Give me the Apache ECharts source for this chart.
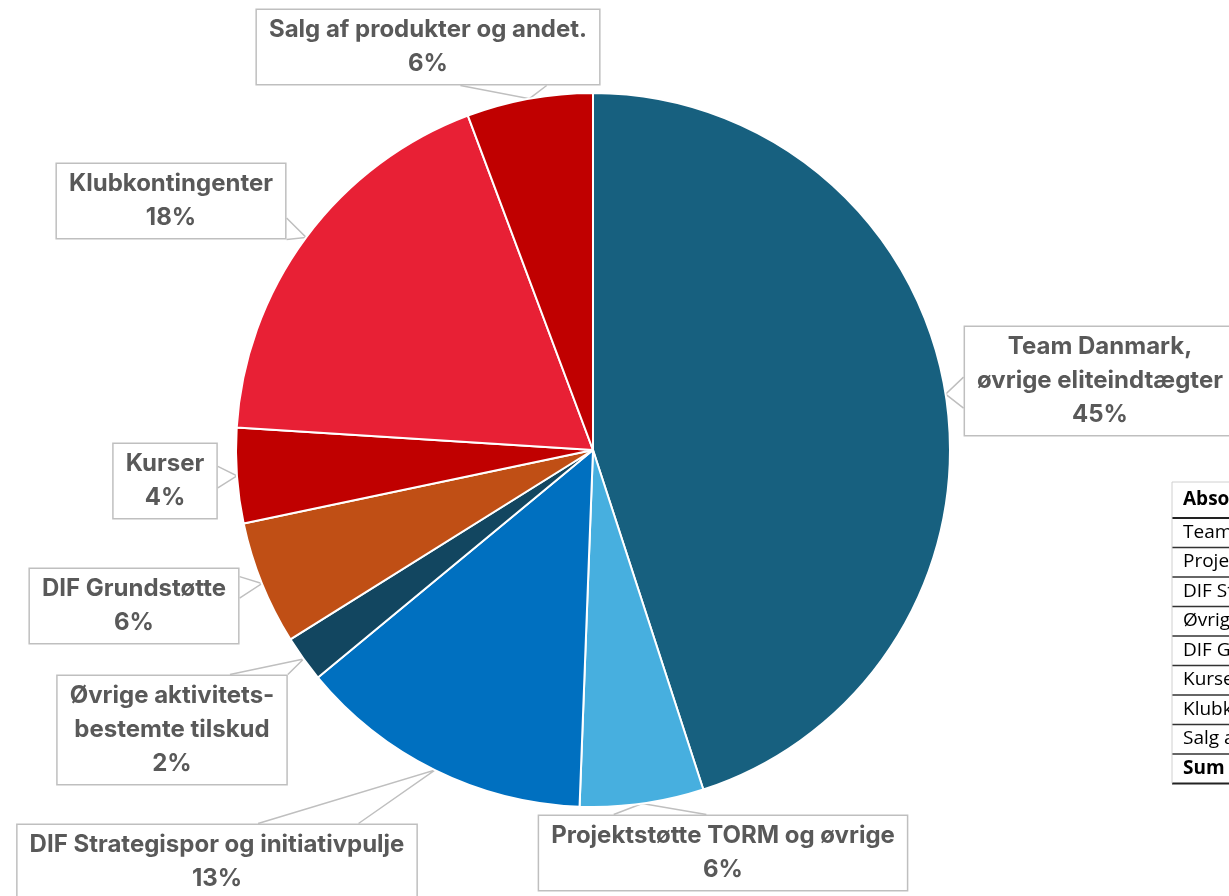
<!DOCTYPE html>
<html>
<head>
<meta charset="utf-8">
<title>Indtægter</title>
<script src="https://cdn.jsdelivr.net/npm/echarts@6/dist/echarts.min.js"></script>
<style>
  html, body { margin: 0; padding: 0; background: #fff; }
  #pie { width: 1229px; height: 896px; }
</style>
</head>
<body>
<div id="pie"></div>
<script>
// kategorier (med linjeskift til etiketterne)
const categories = [
  'Team Danmark,\nøvrige eliteindtægter',
  'Projektstøtte TORM og øvrige',
  'DIF Strategispor og initiativpulje',
  'Øvrige aktivitets-\nbestemte tilskud',
  'DIF Grundstøtte',
  'Kurser',
  'Klubkontingenter',
  'Salg af produkter og andet.'
];
// andele i procent
const shares = [45.0, 5.6, 13.4, 2.1, 5.6, 4.3, 18.3, 5.7];
const colors = ['#17607f', '#47afdf', '#0070c0', '#124660', '#c04f15', '#c00000', '#e82035', '#c00000'];

// tabellen til højre (skåret af i billedet)
const tableHeader = 'Absolutte tal';
const tableRows = [
  'Team Danmark, øvrige eliteindtægter',
  'Projektstøtte TORM og øvrige',
  'DIF Strategispor og initiativpulje',
  'Øvrige aktivitetsbestemte tilskud',
  'DIF Grundstøtte',
  'Kurser',
  'Klubkontingenter',
  'Salg af produkter og andet.'
];
const tableSum = 'Sum';

// placering af etiket-boksene (centrum)
const labelPos = [[1100, 381], [723, 853], [217, 862], [172, 730], [134, 606], [165, 481], [171, 201], [428, 47]];

const myChart = echarts.init(document.getElementById('pie'));

// kile fra boks til udsnit, som i Excel
function wedge(rect, tip) {
  const cx = rect.x + rect.width / 2;
  const cy = rect.y + rect.height / 2;
  const dx = tip[0] - cx, dy = tip[1] - cy;
  const tx = dx !== 0 ? (rect.width / 2) / Math.abs(dx) : Infinity;
  const ty = dy !== 0 ? (rect.height / 2) / Math.abs(dy) : Infinity;
  let a, b;
  if (tx < ty) {
    // venstre/højre kant
    const ex = dx > 0 ? rect.x + rect.width : rect.x;
    const hw = rect.height * 0.14;
    let my = cy + dy * tx;
    my = Math.max(rect.y + hw, Math.min(rect.y + rect.height - hw, my));
    a = [ex, my - hw];
    b = [ex, my + hw];
  } else {
    const ey = dy > 0 ? rect.y + rect.height : rect.y;
    const hw = rect.width * 0.125;
    let mx = cx + dx * ty;
    mx = Math.max(rect.x + hw, Math.min(rect.x + rect.width - hw, mx));
    a = [mx - hw, ey];
    b = [mx + hw, ey];
  }
  return [a, tip, b];
}

// tabel som grafik
const tableTop = 482, headerH = 36, rowH = 29.5, tableLeft = 1172;
const tableEls = [];
const allRows = [tableHeader].concat(tableRows, [tableSum]);
let yy = tableTop;
allRows.forEach((txt, i) => {
  const h = i === 0 ? headerH : rowH;
  const bold = i === 0 || i === allRows.length - 1;
  tableEls.push({
    type: 'text',
    left: tableLeft + 11,
    top: yy + h / 2 - 10,
    style: {
      text: txt,
      font: (bold ? 'bold ' : '') + '19px "Open Sans", "Noto Sans", sans-serif',
      fill: '#000'
    }
  });
  yy += h;
  const strong = i === 0 || i === allRows.length - 1;
  tableEls.push({
    type: 'line',
    shape: {x1: tableLeft, y1: yy, x2: 1229, y2: yy},
    style: {stroke: strong ? '#222' : '#333', lineWidth: strong ? 2 : 1.4}
  });
});
tableEls.push({
  type: 'line',
  shape: {x1: tableLeft, y1: tableTop, x2: 1229, y2: tableTop},
  style: {stroke: '#d0d0d0', lineWidth: 1}
});
tableEls.push({
  type: 'line',
  shape: {x1: tableLeft, y1: tableTop, x2: tableLeft, y2: yy},
  style: {stroke: '#d0d0d0', lineWidth: 1}
});

const option = {
  animation: false,
  color: colors,
  graphic: tableEls,
  series: [
    {
      type: 'pie',
      center: [593, 450],
      radius: 357,
      startAngle: 90,
      clockwise: true,
      avoidLabelOverlap: false,
      itemStyle: {borderColor: '#fff', borderWidth: 2},
      label: {
        show: true,
        position: 'outside',
        formatter: function (p) {
          return p.name + '\n' + Math.round(p.percent) + '%';
        },
        color: '#595959',
        fontFamily: 'Inter, "Open Sans", sans-serif',
        fontWeight: 'bold',
        fontSize: 24,
        lineHeight: 34,
        align: 'center',
        backgroundColor: '#fff',
        borderColor: '#bfbfbf',
        borderWidth: 1.5,
        padding: [3, 12, 3, 12]
      },
      labelLine: {
        show: true,
        length: 10,
        length2: 10,
        lineStyle: {color: '#bfbfbf', width: 1.5}
      },
      labelLayout: function (params) {
        const pos = labelPos[params.dataIndex];
        const w = params.labelRect.width, h = params.labelRect.height;
        const rect = {x: pos[0] - w / 2, y: pos[1] - h / 2, width: w, height: h};
        const tip = params.labelLinePoints ? params.labelLinePoints[0] : [pos[0], pos[1]];
        return {
          x: pos[0],
          y: pos[1],
          align: 'center',
          verticalAlign: 'middle',
          labelLinePoints: wedge(rect, tip)
        };
      },
      data: categories.map((c, i) => ({name: c, value: shares[i]}))
    }
  ]
};
myChart.setOption(option);
</script>
</body>
</html>
